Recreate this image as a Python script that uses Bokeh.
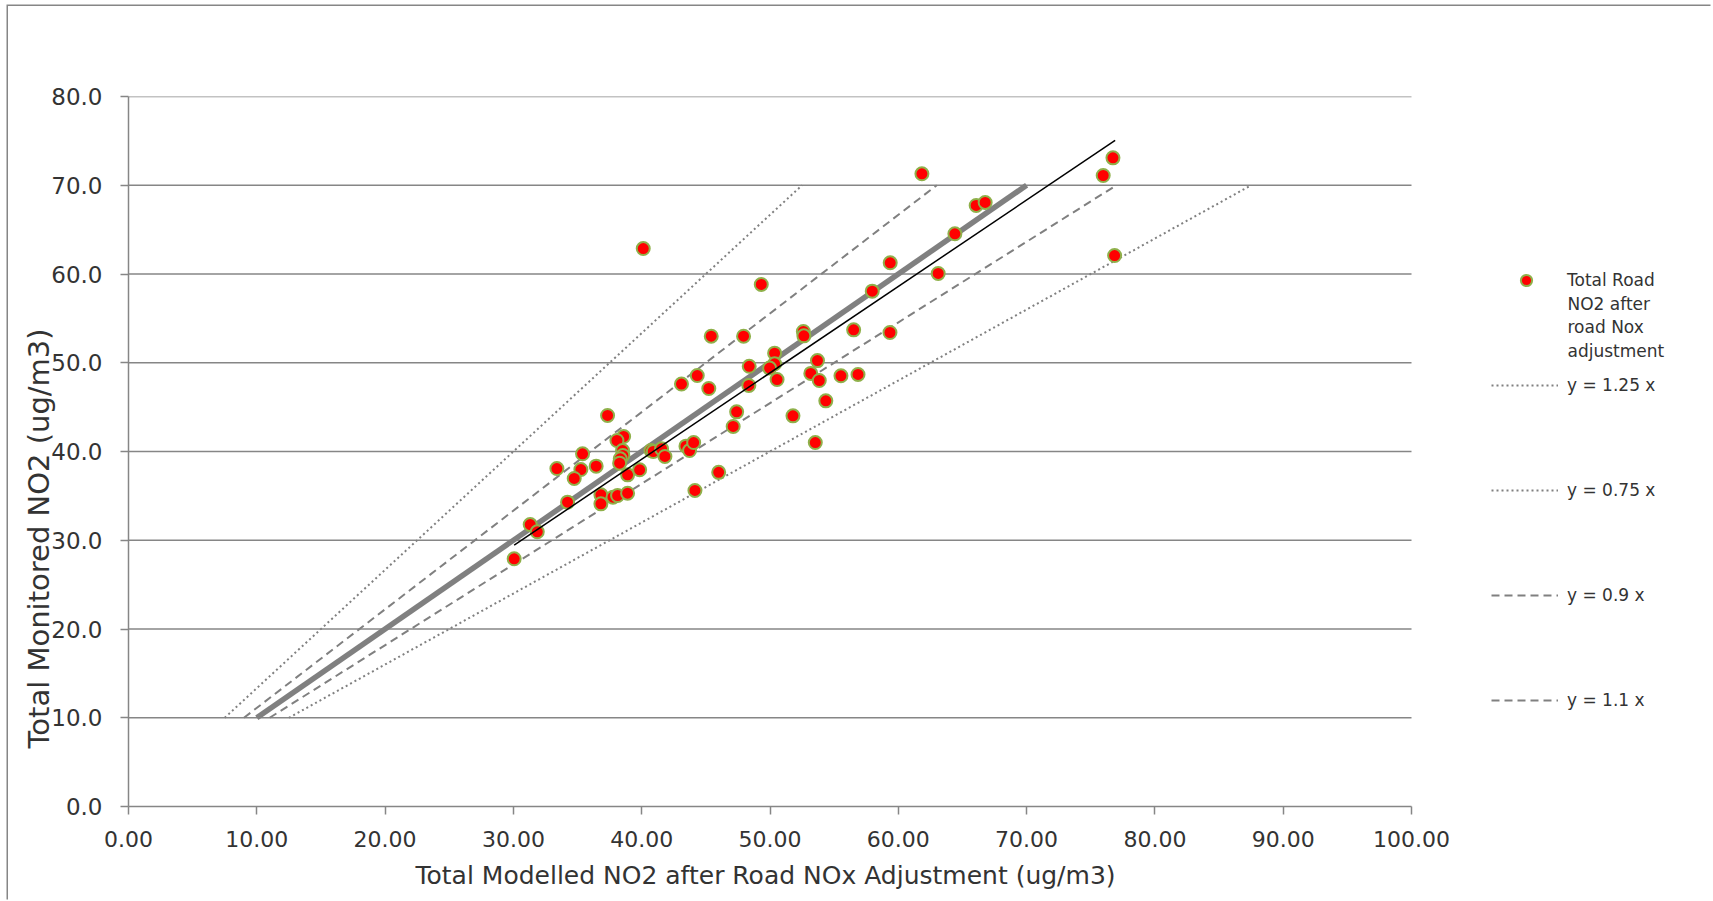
import math
from bokeh.plotting import figure
from bokeh.models import (Range1d, FixedTicker, NumeralTickFormatter, Legend,
                          LegendItem, Label, Title)
from bokeh.embed import file_html
from bokeh.resources import INLINE

# ---------------- data ----------------
modelled = [30.06, 31.31, 31.86, 34.22, 36.82, 36.82, 37.76, 38.12, 38.90, 33.39,
            35.26, 34.74, 36.45, 35.39, 37.34, 38.59, 38.07, 38.51, 38.53, 38.33,
            38.28, 38.90, 39.84, 40.72, 40.90, 41.55, 41.81, 43.45, 43.73, 44.05,
            44.15, 46.00, 43.10, 45.23, 44.33, 45.42, 47.94, 48.35, 48.38, 47.40,
            47.13, 50.36, 50.36, 49.97, 50.55, 52.60, 52.64, 53.70, 53.18, 53.84,
            55.53, 56.86, 56.52, 59.35, 54.35, 51.79, 53.53, 49.32, 40.12, 57.97,
            59.37, 63.11, 64.41, 61.84, 66.07, 66.77, 75.97, 76.73, 76.86]
monitored = [27.91, 31.77, 30.95, 34.29, 35.12, 34.10, 34.85, 35.04, 35.30, 38.08,
             37.97, 36.96, 38.35, 39.74, 44.06, 41.69, 41.24, 40.11, 39.55, 39.18,
             38.69, 37.37, 37.94, 40.11, 40.00, 40.30, 39.44, 40.60, 40.11, 41.01,
             35.61, 37.65, 47.60, 47.10, 48.56, 52.99, 52.99, 47.44, 49.60, 44.47,
             42.82, 51.08, 49.88, 49.40, 48.11, 53.52, 53.03, 50.24, 48.80, 48.00,
             48.53, 48.68, 53.71, 53.41, 45.71, 44.02, 41.01, 58.82, 62.87, 58.07,
             61.26, 60.06, 64.53, 71.29, 67.72, 68.06, 71.10, 73.09, 62.08]

one_to_one = [10, 70]
ratio_labels = ["y = 1.25 x", "y = 0.75 x", "y = 0.9 x", "y = 1.1 x"]
ratio_factors = [1.25, 0.75, 0.9, 1.1]
ratio_y = [10, 70]
trend_x = [30.06, 76.90]
trend_y = [29.45, 75.05]

x_ticks = [0, 10, 20, 30, 40, 50, 60, 70, 80, 90, 100]
y_ticks = [0, 10, 20, 30, 40, 50, 60, 70, 80]

series_label = ["Total Road", "NO2 after", "road Nox", "adjustment"]
x_title = "Total Modelled NO2 after Road NOx Adjustment (ug/m3)"
y_title = "Total Monitored NO2 (ug/m3)"

# ---------------- styles ----------------
GRID = "#868686"
TXT = "#333333"
FONT = "DejaVu Sans"

W, H = 1704, 895
BL, BT, BB, BR = 120, 90, 95, 4
frame_w = W - BL - BR
x_max = frame_w / 12.83  # keeps 0..100 at the reference's scale, room for legend

p = figure(width=W, height=H, x_range=Range1d(0, x_max), y_range=Range1d(0, 80),
           output_backend="svg", toolbar_location=None,
           min_border_left=BL, min_border_right=BR, min_border_top=BT,
           min_border_bottom=BB)
p.styles = {"margin-left": "8px", "margin-top": "6px",
            "box-shadow": "-1.5px -1.5px 0px 0px #868686"}
p.outline_line_color = None
p.background_fill_color = "white"
p.border_fill_color = "white"

p.xgrid.visible = False
p.ygrid.visible = False
# horizontal gridlines limited to the 0..100 span
p.segment(x0=[x_ticks[0]] * (len(y_ticks) - 1), x1=[x_ticks[-1]] * (len(y_ticks) - 1),
          y0=y_ticks[1:], y1=y_ticks[1:], line_color=GRID, line_width=1.5)

for ax, ticks, fmt in ((p.xaxis[0], x_ticks, "0.00"), (p.yaxis[0], y_ticks, "0.0")):
    ax.ticker = FixedTicker(ticks=ticks)
    ax.formatter = NumeralTickFormatter(format=fmt)
    ax.axis_line_color = GRID
    ax.axis_line_width = 1.5
    ax.major_tick_line_color = GRID
    ax.major_tick_line_width = 1.5
    ax.major_tick_in = 0
    ax.major_tick_out = 8
    ax.minor_tick_out = 0
    ax.minor_tick_in = 0
    ax.major_label_text_font = FONT
    ax.major_label_text_color = TXT
p.xaxis.major_label_text_font_size = "22px"
p.yaxis.major_label_text_font_size = "23px"
p.xaxis.bounds = (x_ticks[0], x_ticks[-1])
p.xaxis.major_label_standoff = 16
p.yaxis.major_label_standoff = 18

xt = Title(text=x_title, align="left", offset=287, text_font=FONT,
           text_font_size="25px", text_font_style="normal",
           text_color=TXT, standoff=19)
p.add_layout(xt, "below")
yt = Title(text=y_title, align="left", offset=58, text_font=FONT,
           text_font_size="29px", text_font_style="normal",
           text_color=TXT, standoff=0)
try:
    yt.standoff = -14
except Exception:
    yt.standoff = 0
p.add_layout(yt, "left")

# ratio lines
dashes = {1.25: "2 3", 0.75: "2 3", 0.9: "8 5", 1.1: "8 5"}
ratio_renderers = []
for k in ratio_factors:
    xs = [k * v for v in ratio_y]
    r = p.line(xs, ratio_y, line_color="#808080", line_width=2,
               line_dash=dashes[k])
    ratio_renderers.append(r)

# 1:1 line
p.line(one_to_one, one_to_one, line_color="#808080", line_width=5.5)

# scatter
sc = p.scatter(modelled, monitored, size=13, fill_color="#ff0000",
               line_color="#8fb04a", line_width=2)

# trend line
p.line(trend_x, trend_y, line_color="black", line_width=1.5)

# legends (inside the frame, right of the 0..100 plot area)
leg0 = Legend(items=[LegendItem(label=series_label[0], renderers=[sc])],
              location=(1384, 512), glyph_width=28, glyph_height=28,
              label_standoff=27, label_height=20)
legs = [leg0]
ypos = [411, 306, 201, 96]
for lab, r, yy in zip(ratio_labels, ratio_renderers, ypos):
    legs.append(Legend(items=[LegendItem(label=lab, renderers=[r])],
                       location=(1363, yy), glyph_width=67, glyph_height=20,
                       label_standoff=9, label_height=20))
for lg in legs:
    lg.padding = 0
    lg.margin = 0
    lg.spacing = 0
    lg.border_line_color = None
    lg.background_fill_alpha = 0
    lg.label_text_font = FONT
    lg.label_text_font_size = "17px"
    lg.label_text_color = TXT
    p.add_layout(lg)

for i, txt in enumerate(series_label[1:]):
    p.add_layout(Label(x=(1567 - 128) / 12.83, y=56.64 - 2.63 * i, text=txt,
                       text_font=FONT, text_font_size="17px", text_color=TXT,
                       text_baseline="middle", text_align="left"))

open("out.html", "w").write(file_html(p, INLINE))
